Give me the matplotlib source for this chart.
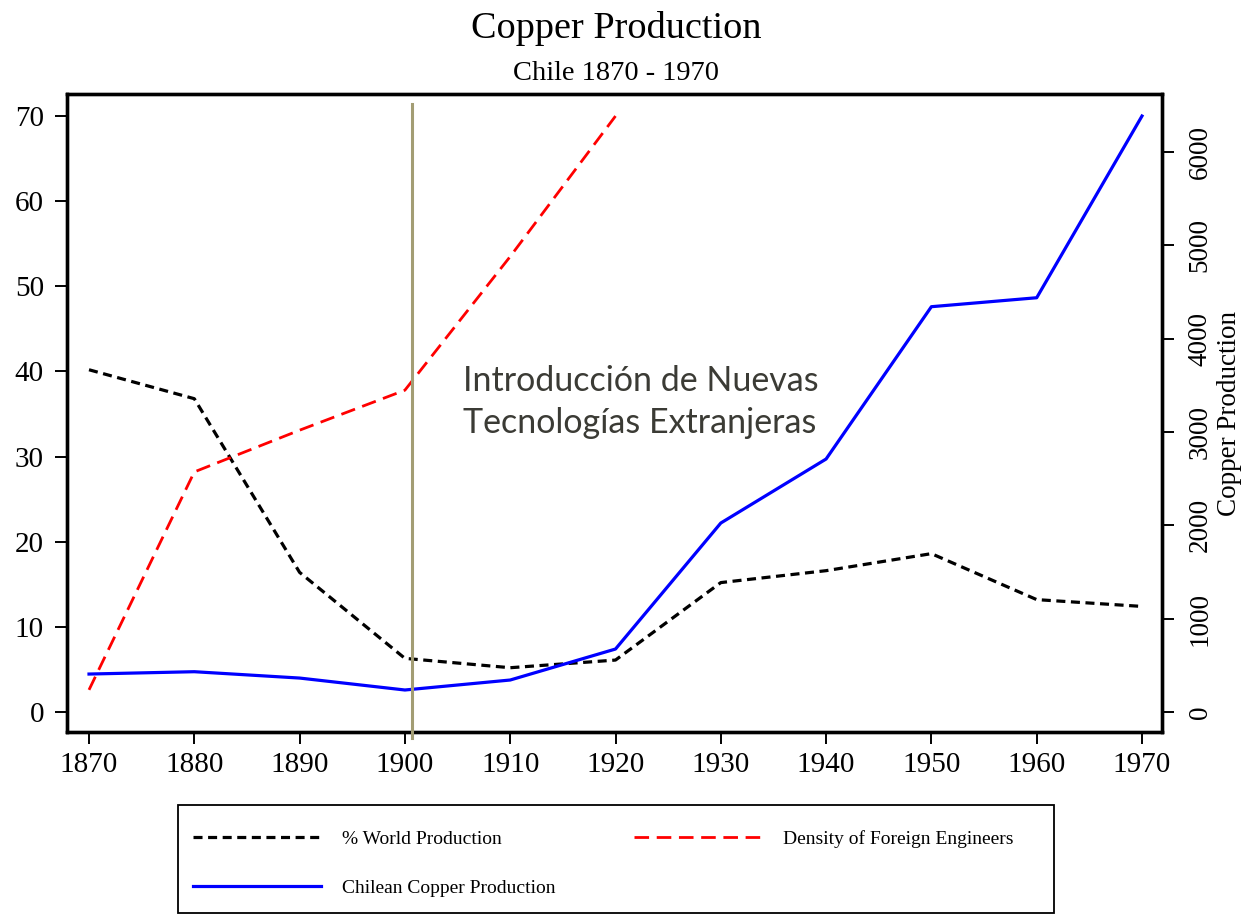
import matplotlib
matplotlib.use("Agg")
import matplotlib.pyplot as plt
from matplotlib.patches import Rectangle

# ---- data ----
years = [1870, 1880, 1890, 1900, 1910, 1920, 1930, 1940, 1950, 1960, 1970]
world_pct = [40.2, 36.8, 16.4, 6.3, 5.2, 6.1, 15.2, 16.6, 18.6, 13.2, 12.4]
eng_years = [1870, 1880, 1890, 1900, 1910, 1920]
eng_density = [2.6, 28.2, 33.1, 37.8, 53.5, 70.0]
chile_prod = [407, 432, 364, 236, 343, 675, 2025, 2711, 4343, 4439, 6386]
left_ticks = [0, 10, 20, 30, 40, 50, 60, 70]
right_ticks = [0, 1000, 2000, 3000, 4000, 5000, 6000]
x_ticks = years
event_year = 1900.65

plt.rcParams['font.family'] = ['Liberation Serif', 'DejaVu Serif']
plt.rcParams['lines.scale_dashes'] = False

W, H = 1245, 916
fig = plt.figure(figsize=(W / 100, H / 100), dpi=100)
L, R, T, B = 67, 1162, 94, 732
ax = fig.add_axes([L / W, 1 - B / H, (R - L) / W, (B - T) / H])
ax2 = ax.twinx()

ax.set_xlim(1867.91, 1971.9)
ax.set_ylim(-2.35, 72.59)
ax2.set_ylim(-214, 6622)

l1, = ax.plot(years, world_pct, color='black', lw=2.3, dashes=(6.5, 4), zorder=3)
l2, = ax.plot(eng_years, eng_density, color='#ff0000', lw=2.0, dashes=(10.5, 5.5), zorder=3)
l3, = ax2.plot(years, chile_prod, color='#0000ff', lw=2.3, zorder=3)

ax2.axvline(event_year, ymin=-0.01, ymax=0.985, color='#a39d74', lw=2.2,
            clip_on=False, zorder=5)

ax.set_xticks(x_ticks)
ax.set_yticks(left_ticks)
ax2.set_yticks(right_ticks)
for a in (ax, ax2):
    for s in a.spines.values():
        s.set_linewidth(2.4)
ax.tick_params(axis='both', which='major', length=8.6, width=1.4,
               labelsize=21, direction='out')
ax.tick_params(axis='x', pad=6)
ax.tick_params(axis='y', pad=8)
ax2.tick_params(axis='y', length=8.6, width=1.4, labelsize=19.5, pad=10,
                direction='out')
for lbl in ax2.get_yticklabels():
    lbl.set_rotation(90)
    lbl.set_va('center')
ax2.set_ylabel('Copper Production', fontsize=19.5, rotation=90, labelpad=3)

ax.text(1905.5, 36.4, 'Introducción de Nuevas\nTecnologías Extranjeras',
        fontsize=24.5, family=['Lato', 'DejaVu Sans'], color='#3b3b35',
        ha='left', va='center', linespacing=1.38, zorder=6)

fig.text(616 / W, 1 - 28 / H, 'Copper Production', fontsize=27.5,
         ha='center', va='center')
fig.text(616 / W, 1 - 74 / H, 'Chile 1870 - 1970', fontsize=20.5,
         ha='center', va='center')

# legend
fig.patches.append(Rectangle((178 / W, 1 - 913 / H), (1054 - 178) / W, (913 - 805) / H,
                             transform=fig.transFigure, fill=False,
                             edgecolor='black', lw=1.3))
leg = fig.legend([l1, l3, l2],
                 ['% World Production', 'Chilean Copper Production',
                  'Density of Foreign Engineers'],
                 ncol=2, frameon=False, loc='upper left',
                 bbox_to_anchor=(183 / W, 1 - 820 / H),
                 fontsize=14, handlelength=6.6, handletextpad=1.1,
                 columnspacing=4.0, labelspacing=1.65, borderpad=0)

fig.savefig('out.png', dpi=100)
